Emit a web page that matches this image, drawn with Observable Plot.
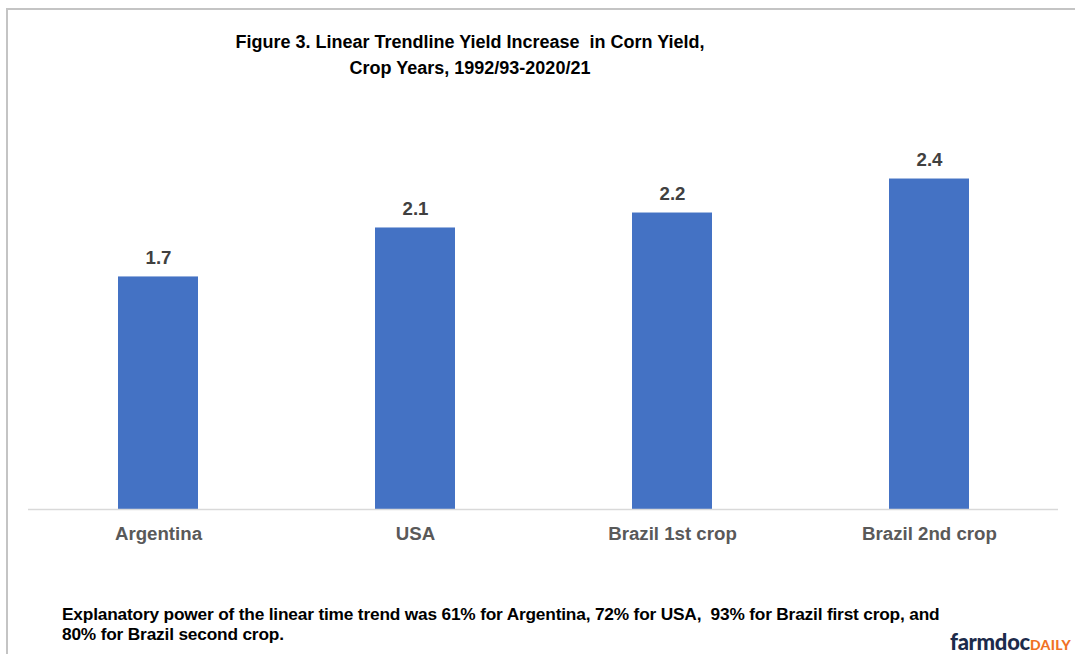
<!DOCTYPE html>
<html>
<head>
<meta charset="utf-8">
<script src="https://cdn.jsdelivr.net/npm/d3@7"></script>
<script src="https://cdn.jsdelivr.net/npm/@observablehq/plot@0.6"></script>
<style>
  html, body { margin: 0; padding: 0; background: #fff; }
  #wrap { position: relative; width: 1075px; height: 654px; overflow: hidden; font-family: "Liberation Sans", Arial, sans-serif; }
  #frame { position: absolute; left: 6px; top: 8px; width: 1200px; height: 800px; border: 2px solid #c4c4c4; box-sizing: border-box; }
  #chart { position: absolute; left: 0; top: 0; }
  #title { position: absolute; left: 170px; width: 600px; top: 29px; text-align: center; font-weight: bold; font-size: 18px; line-height: 26px; color: #000; }
  #note { position: absolute; left: 62px; top: 604px; width: 1000px; font-weight: bold; font-size: 17.3px; line-height: 20px; color: #000; letter-spacing: -0.18px; white-space: nowrap; }
  #logo { position: absolute; left: 950px; top: 628px; white-space: nowrap; font-family: Lato, "Open Sans", sans-serif; font-weight: 900; }
  #logo .a { color: #1c2b4b; font-size: 22px; letter-spacing: -0.3px; }
  #logo .b { color: #f07125; font-size: 14px; letter-spacing: 0.3px; }
</style>
</head>
<body>
<div id="wrap">
  <div id="frame"></div>
  <div id="chart"></div>
  <div id="title">Figure 3. Linear Trendline Yield Increase&nbsp; in Corn Yield,<br>Crop Years, 1992/93-2020/21</div>
  <div id="note">Explanatory power of the linear time trend was 61% for Argentina, 72% for USA, &nbsp;93% for Brazil first crop, and<br>80% for Brazil second crop.</div>
  <div id="logo"><span class="a">farmdoc</span><span class="b">DAILY</span></div>
</div>
<script>
const categories = ["Argentina", "USA", "Brazil 1st crop", "Brazil 2nd crop"];
const values = [1.71, 2.07, 2.18, 2.43];

const data = categories.map((c, i) => ({category: c, value: values[i]}));

const chart = Plot.plot({
  width: 1075,
  height: 654,
  marginLeft: 28,
  marginRight: 17,
  marginTop: 101,
  marginBottom: 145,
  style: {background: "transparent", overflow: "visible"},
  x: {domain: categories, paddingInner: 0.69, paddingOuter: 0.345, label: null},
  y: {domain: [0, 3], axis: null},
  marks: [
    Plot.barY(data, {x: "category", y: "value", fill: "#4472c4"}),
    Plot.ruleY([0], {stroke: "#d9d9d9", strokeWidth: 1.5}),
    Plot.text(data, {
      x: "category", y: "value", text: d => d.value.toFixed(1),
      lineAnchor: "bottom", dy: -13, fontSize: 18.67, fontWeight: "bold",
      fill: "#404040", fontFamily: "Liberation Sans, Arial, sans-serif"
    }),
    Plot.axisX({
      tickSize: 0, tickPadding: 17, fontSize: 18.67, fontWeight: "bold",
      fill: "#595959", fontFamily: "Liberation Sans, Arial, sans-serif", label: null
    })
  ]
});
document.getElementById("chart").appendChild(chart);
</script>
</body>
</html>
